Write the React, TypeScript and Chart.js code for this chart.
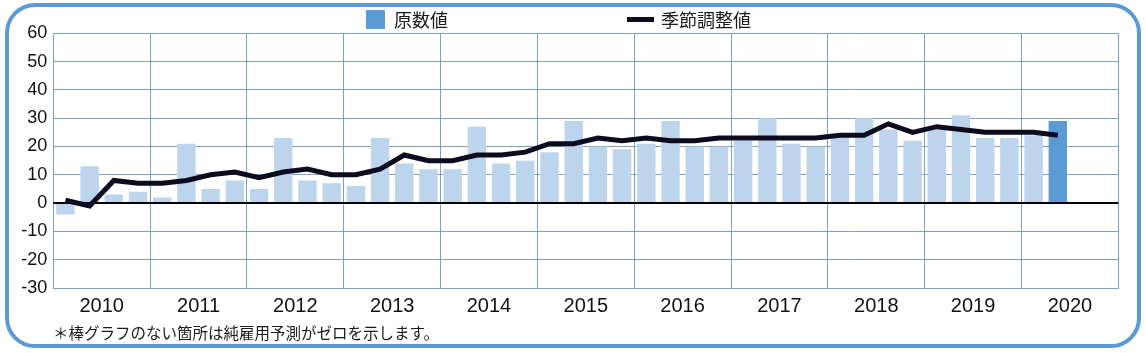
import React, { useEffect, useRef } from 'react';
import { Chart, registerables } from 'chart.js';

Chart.register(...registerables);

// ---- data ----
const years = ['2010', '2011', '2012', '2013', '2014', '2015', '2016', '2017', '2018', '2019', '2020'];
const quarters = ['Q1', 'Q2', 'Q3', 'Q4'];
const categories = years.flatMap((y) => quarters.map((q) => `${y} ${q}`));

// 原数値 (raw values), 2010 Q1 – 2020 Q2
const rawValues = [
  -4, 13, 3, 4,
  2, 21, 5, 8,
  5, 23, 8, 7,
  6, 23, 14, 12,
  12, 27, 14, 15,
  18, 29, 20, 19,
  21, 29, 20, 20,
  22, 30, 21, 20,
  24, 30, 26, 22,
  26, 31, 23, 23,
  24, 29,
];

// 季節調整値 (seasonally adjusted)
const adjustedValues = [
  1, -1, 8, 7,
  7, 8, 10, 11,
  9, 11, 12, 10,
  10, 12, 17, 15,
  15, 17, 17, 18,
  21, 21, 23, 22,
  23, 22, 22, 23,
  23, 23, 23, 23,
  24, 24, 28, 25,
  27, 26, 25, 25,
  25, 24,
];

const yTicks = { min: -30, max: 60, step: 10 };
const legendLabels = ['原数値', '季節調整値'];
const footnote = '＊棒グラフのない箇所は純雇用予測がゼロを示します。';

// ---- styles ----
const GRID = '#7aa2bf';
const BAR_LIGHT = '#bcd4ec';
const BAR_DARK = '#5b9bd5';
const LINE = '#0c0c1e';
const FRAME = '#5b9bd5';
const NUM_FONT = '"Liberation Sans", Arial, sans-serif';
const JP_FONT = '"Noto Sans CJK JP", "Noto Sans", sans-serif';

const zeroLinePlugin = {
  id: 'zeroLine',
  afterDatasetDraw(chart: any, args: any) {
    if (args.index !== 0) return;
    const { ctx, chartArea } = chart;
    const y = chart.scales.y.getPixelForValue(0);
    ctx.save();
    ctx.strokeStyle = '#000';
    ctx.lineWidth = 2;
    ctx.beginPath();
    ctx.moveTo(chartArea.left, y);
    ctx.lineTo(chartArea.right, y);
    ctx.stroke();
    ctx.restore();
  },
};

export default function App() {
  const canvasRef = useRef<HTMLCanvasElement | null>(null);

  useEffect(() => {
    if (!canvasRef.current) return;
    const barColors = rawValues.map((_, i) => (i === rawValues.length - 1 ? BAR_DARK : BAR_LIGHT));
    const chart = new Chart(canvasRef.current, {
      type: 'bar',
      data: {
        labels: categories,
        datasets: [
          {
            type: 'bar',
            label: legendLabels[0],
            data: rawValues,
            backgroundColor: barColors,
            categoryPercentage: 1,
            barPercentage: 0.76,
            order: 2,
          },
          {
            type: 'line',
            label: legendLabels[1],
            data: adjustedValues,
            borderColor: LINE,
            borderWidth: 5,
            pointRadius: 0,
            tension: 0,
            fill: false,
            order: 1,
          },
        ] as any,
      },
      options: {
        responsive: false,
        animation: false,
        devicePixelRatio: 1,
        layout: { padding: { left: 0, right: 27.7, top: 33.3, bottom: 35 } },
        plugins: {
          legend: { display: false },
          tooltip: { enabled: false },
        },
        scales: {
          x: {
            type: 'category',
            offset: true,
            grid: {
              display: true,
              offset: true,
              drawTicks: false,
              lineWidth: 1,
              color: (c: any) =>
                c.index === undefined || c.index % 4 === 0 ? GRID : 'rgba(0,0,0,0)',
            },
            border: { display: true, color: GRID, width: 1 },
            ticks: {
              autoSkip: false,
              maxRotation: 0,
              minRotation: 0,
              labelOffset: 12.1,
              padding: 6,
              color: '#111',
              font: { family: NUM_FONT, size: 20 },
              callback: (_v: any, i: number) => (i % 4 === 1 ? years[Math.floor(i / 4)] : ''),
            },
            afterFit: (s: any) => {
              s.height = 30;
            },
          },
          y: {
            min: yTicks.min,
            max: yTicks.max,
            ticks: {
              stepSize: yTicks.step,
              padding: 6,
              color: '#111',
              font: { family: NUM_FONT, size: 18 },
            },
            grid: { color: GRID, lineWidth: 1, drawTicks: false },
            border: { display: true, color: GRID, width: 1 },
            afterFit: (s: any) => {
              s.width = 53.3;
            },
          },
        },
      },
      plugins: [zeroLinePlugin],
    });
    return () => chart.destroy();
  }, []);

  return (
    <div
      style={{
        position: 'fixed',
        left: 0,
        top: 0,
        width: 1146,
        height: 353,
        background: '#fff',
        overflow: 'hidden',
      }}
    >
      <div
        style={{
          position: 'absolute',
          left: 5,
          top: 3,
          width: 1136,
          height: 345,
          boxSizing: 'border-box',
          border: `4px solid ${FRAME}`,
          borderRadius: 30,
        }}
      />
      <canvas
        ref={canvasRef}
        width={1146}
        height={353}
        style={{ position: 'absolute', left: 0, top: 0, width: 1146, height: 353 }}
      />
      <div
        style={{
          position: 'absolute',
          left: 366,
          top: 10,
          width: 19,
          height: 19,
          background: BAR_DARK,
        }}
      />
      <div
        style={{
          position: 'absolute',
          left: 394,
          top: 8,
          fontFamily: JP_FONT,
          fontSize: 18,
          lineHeight: '22px',
          color: '#1a1a1a',
          whiteSpace: 'nowrap',
        }}
      >
        {legendLabels[0]}
      </div>
      <div
        style={{
          position: 'absolute',
          left: 627,
          top: 17,
          width: 27,
          height: 5,
          background: LINE,
        }}
      />
      <div
        style={{
          position: 'absolute',
          left: 661,
          top: 8,
          fontFamily: JP_FONT,
          fontSize: 18,
          lineHeight: '22px',
          color: '#1a1a1a',
          whiteSpace: 'nowrap',
        }}
      >
        {legendLabels[1]}
      </div>
      <div
        style={{
          position: 'absolute',
          left: 53,
          top: 322,
          fontFamily: JP_FONT,
          fontSize: 15.5,
          lineHeight: '20px',
          color: '#1a1a1a',
          whiteSpace: 'nowrap',
        }}
      >
        {footnote}
      </div>
    </div>
  );
}
